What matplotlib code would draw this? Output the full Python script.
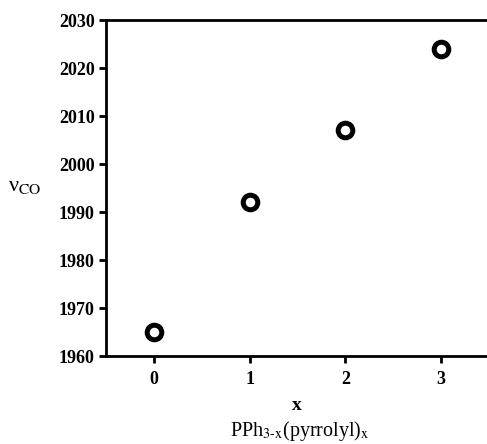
import matplotlib
matplotlib.use('Agg')
import matplotlib.pyplot as plt

# data
x_vals = [0, 1, 2, 3]
nu_co = [1965, 1992, 2007, 2024]
y_ticks = [1960, 1970, 1980, 1990, 2000, 2010, 2020, 2030]

plt.rcParams['font.family'] = ['Liberation Serif', 'DejaVu Serif']
plt.rcParams['mathtext.fontset'] = 'stix'

W, H = 487, 444
fig = plt.figure(figsize=(W / 100, H / 100), dpi=100)
ax = fig.add_axes([106 / W, 1 - 356 / H, (487 - 106) / W, (356 - 20) / H])

ax.plot(x_vals, nu_co, 'o', markersize=10.5, markerfacecolor='white',
        markeredgecolor='black', markeredgewidth=3.6, linestyle='none')

ax.set_xlim(-0.502, 3.48)
ax.set_ylim(1960, 2030)
ax.set_xticks(x_vals)
ax.set_yticks(y_ticks)

for side in ('left', 'bottom', 'top'):
    ax.spines[side].set_linewidth(2)
ax.spines['right'].set_visible(False)
ax.tick_params(direction='out', length=5, width=2, labelsize=13, pad=3)
ax.tick_params(axis='x', pad=6)
for lab in ax.get_xticklabels() + ax.get_yticklabels():
    lab.set_fontweight('semibold')

ax.set_xlabel('x', fontsize=14, fontweight='bold', labelpad=6)
fig.text(25 / W, 1 - 186 / H, r'ν$_{\mathrm{CO}}$', fontsize=16,
         ha='center', va='center')
fig.text(300 / W, 1 - 431 / H,
         r'PPh$_{\mathrm{3\text{-}x}}$(pyrrolyl)$_{\mathrm{x}}$',
         fontsize=14.5, ha='center', va='center')

fig.savefig('out.png', dpi=100)
